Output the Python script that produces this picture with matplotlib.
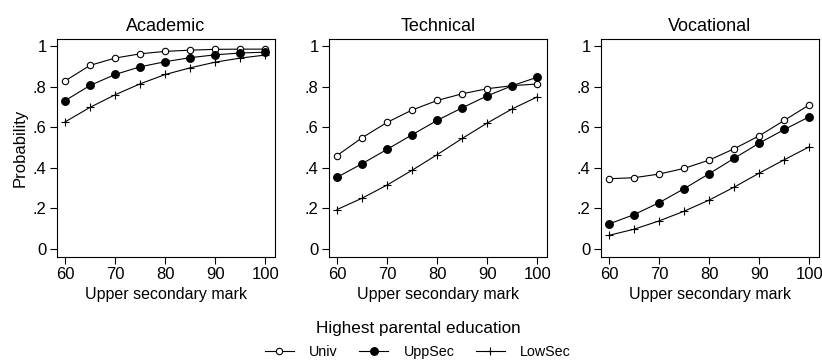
import matplotlib
matplotlib.use("Agg")
import matplotlib.pyplot as plt
from matplotlib.lines import Line2D

plt.rcParams['font.family'] = ['Liberation Sans', 'DejaVu Sans']

marks = [60, 65, 70, 75, 80, 85, 90, 95, 100]
panels = ["Academic", "Technical", "Vocational"]
series_names = ["Univ", "UppSec", "LowSec"]

academic_univ = [0.828, 0.905, 0.941, 0.962, 0.974, 0.980, 0.984, 0.985, 0.985]
academic_uppsec = [0.731, 0.806, 0.860, 0.898, 0.923, 0.943, 0.957, 0.966, 0.970]
academic_lowsec = [0.626, 0.698, 0.760, 0.814, 0.860, 0.893, 0.921, 0.941, 0.956]

technical_univ = [0.460, 0.548, 0.624, 0.685, 0.732, 0.765, 0.790, 0.805, 0.813]
technical_uppsec = [0.353, 0.420, 0.491, 0.563, 0.634, 0.696, 0.755, 0.805, 0.847]
technical_lowsec = [0.194, 0.250, 0.315, 0.388, 0.465, 0.545, 0.621, 0.691, 0.750]

vocational_univ = [0.346, 0.351, 0.369, 0.397, 0.438, 0.494, 0.558, 0.634, 0.711]
vocational_uppsec = [0.123, 0.169, 0.228, 0.297, 0.371, 0.447, 0.522, 0.589, 0.652]
vocational_lowsec = [0.067, 0.097, 0.138, 0.186, 0.241, 0.305, 0.374, 0.440, 0.504]

data = {
    "Academic": [academic_univ, academic_uppsec, academic_lowsec],
    "Technical": [technical_univ, technical_uppsec, technical_lowsec],
    "Vocational": [vocational_univ, vocational_uppsec, vocational_lowsec],
}

yticks = [0, 0.2, 0.4, 0.6, 0.8, 1.0]
ytick_labels = ["0", ".2", ".4", ".6", ".8", "1"]
xticks = [60, 70, 80, 90, 100]

styles = [
    dict(marker='o', markerfacecolor='white', markeredgecolor='black', markersize=4.6, markeredgewidth=0.8),
    dict(marker='o', markerfacecolor='black', markeredgecolor='black', markersize=5.4),
    dict(marker='+', markerfacecolor='black', markeredgecolor='black', markersize=5.5, markeredgewidth=0.8),
]

fig = plt.figure(figsize=(8.22, 3.63), dpi=100)
W, H = 822, 363
lefts = [57, 329, 601]
for i, name in enumerate(panels):
    ax = fig.add_axes([lefts[i] / W, 1 - 257 / H, 218 / W, 218 / H])
    for vals, st in zip(data[name], styles):
        ax.plot(marks, vals, color='black', linewidth=0.8, **st)
    ax.set_xlim(58.4, 101.9)
    ax.set_ylim(-0.04, 1.035)
    ax.set_xticks(xticks)
    ax.set_yticks(yticks)
    ax.set_yticklabels(ytick_labels)
    ax.tick_params(direction='out', length=5, width=0.8, labelsize=12, pad=2.5)
    for s in ax.spines.values():
        s.set_linewidth(0.8)
    ax.set_title(name, fontsize=13, pad=6)
    ax.set_xlabel("Upper secondary mark", fontsize=11.5, labelpad=3)
    if i == 0:
        ax.set_ylabel("Probability", fontsize=12, labelpad=4)

handles = [Line2D([0], [0], color='black', linewidth=0.8, **st) for st in styles]
leg = fig.legend(handles, series_names, loc='center', bbox_to_anchor=(418 / W, 1 - 340 / H),
                 ncol=3, frameon=False, fontsize=10.3, title="Highest parental education",
                 title_fontsize=12.3, handlelength=2.0, columnspacing=1.5, handletextpad=1.1,
                 borderpad=0.2, labelspacing=0.2)
leg._legend_box.sep = 6

fig.savefig("out.png", dpi=100)
